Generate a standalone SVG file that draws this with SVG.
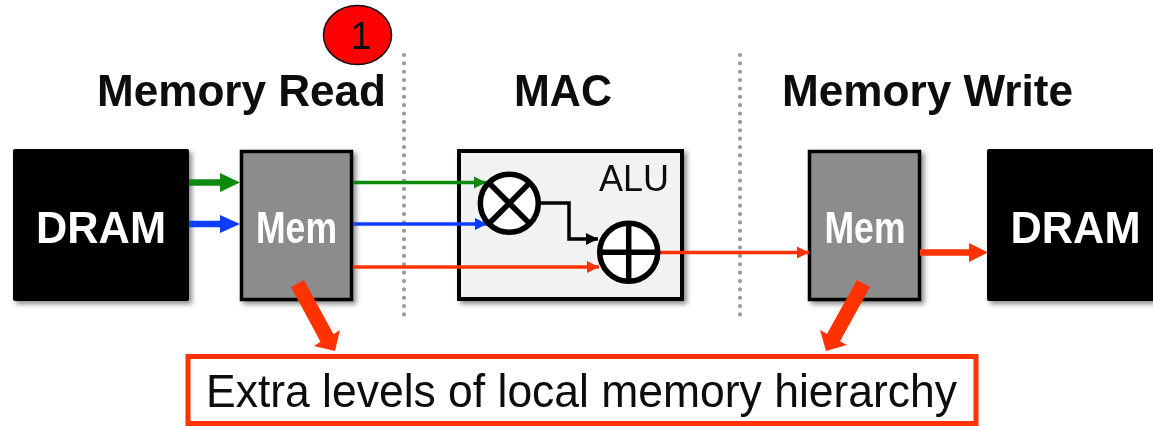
<svg xmlns="http://www.w3.org/2000/svg" width="1153" height="426" viewBox="0 0 1153 426">
<style>
text{font-family:"Liberation Sans",Arial,sans-serif}
.h{font-size:44px;font-weight:700;fill:#0a0a0a}
.w{font-size:44px;font-weight:700;fill:#fff;text-anchor:middle}
.mem{fill:#8c8c8c;stroke:#000;stroke-width:3.5}
.dram{fill:#000}
.dot{fill:none;stroke:#999;stroke-width:4.2;stroke-linecap:round;stroke-dasharray:0 8.37}
.l{fill:none;stroke-width:3.5}
.op{fill:#fff;stroke:#000;stroke-width:5.5}
</style>
<defs>
<filter id="soft" x="0" y="0" width="1153" height="426" filterUnits="userSpaceOnUse"><feGaussianBlur stdDeviation="0.55"/></filter>
<filter id="sh" x="-10%" y="-10%" width="125%" height="125%"><feDropShadow dx="3" dy="3" stdDeviation="2.5" flood-color="#000" flood-opacity=".45"/></filter>
<marker id="ag" markerUnits="userSpaceOnUse" markerWidth="14" markerHeight="14" refX="13" refY="7" orient="auto"><path d="M1 1L13 7L1 13Z" fill="#0a8a0a"/></marker>
<marker id="ab" markerUnits="userSpaceOnUse" markerWidth="14" markerHeight="14" refX="13" refY="7" orient="auto"><path d="M1 1L13 7L1 13Z" fill="#0a3cff"/></marker>
<marker id="ar" markerUnits="userSpaceOnUse" markerWidth="14" markerHeight="14" refX="13" refY="7" orient="auto"><path d="M1 1L13 7L1 13Z" fill="#ff3300"/></marker>
<marker id="ak" markerUnits="userSpaceOnUse" markerWidth="14" markerHeight="14" refX="13" refY="7" orient="auto"><path d="M1 1L13 7L1 13Z" fill="#000"/></marker>
</defs>
<rect width="1153" height="426" fill="#fff"/>
<g filter="url(#soft)">
<g id="dividers">
<path class="dot" d="M404 55V316"/>
<path class="dot" d="M740 55V316"/>
</g>
<g id="heading-read"><text class="h" x="97" y="106" textLength="289" lengthAdjust="spacingAndGlyphs">Memory Read</text></g>
<g id="heading-mac"><text class="h" x="514" y="106" textLength="98" lengthAdjust="spacingAndGlyphs">MAC</text></g>
<g id="heading-write"><text class="h" x="782" y="106" textLength="291" lengthAdjust="spacingAndGlyphs">Memory Write</text></g>
<g id="badge">
<ellipse cx="357.500" cy="35" rx="34" ry="29.500" fill="#fe0000" stroke="#111" stroke-width="1.500"/>
<text x="361" y="49" font-size="38" text-anchor="middle" fill="#111">1</text>
</g>
<g id="dram-left"><rect class="dram" x="13" y="149" width="176" height="152" rx="2" filter="url(#sh)"/><text class="w" x="101" y="243" textLength="130" lengthAdjust="spacingAndGlyphs">DRAM</text></g>
<g id="mem-left"><rect class="mem" x="241.500" y="151.500" width="110" height="148" filter="url(#sh)"/><text class="w" x="296.500" y="243" textLength="81" lengthAdjust="spacingAndGlyphs">Mem</text></g>
<g id="alu"><rect x="459" y="151" width="223" height="148" fill="#f2f2f2" stroke="#000" stroke-width="4" filter="url(#sh)"/><text x="599" y="191" font-size="36" fill="#111">ALU</text></g>
<g id="mem-right"><rect class="mem" x="809.500" y="151.500" width="110" height="148" filter="url(#sh)"/><text class="w" x="865" y="243" textLength="81" lengthAdjust="spacingAndGlyphs">Mem</text></g>
<g id="dram-right"><rect class="dram" x="987" y="149" width="170" height="152" rx="2" filter="url(#sh)"/><text class="w" x="1075.500" y="243" textLength="130" lengthAdjust="spacingAndGlyphs">DRAM</text></g>
<g id="connectors">
<path d="M189 182.500H221" stroke="#0a8a0a" stroke-width="6.500"/><path d="M220 173L240 182.500L220 192Z" fill="#0a8a0a"/>
<path d="M189 224H221" stroke="#0a3cff" stroke-width="6.500"/><path d="M220 215L240 224L220 233Z" fill="#0a3cff"/>
<path class="l" d="M353 182.500H486" stroke="#0a8a0a" marker-end="url(#ag)"/>
<path class="l" d="M353 224H487" stroke="#0a3cff" marker-end="url(#ab)"/>
<path class="l" d="M353 267H599" stroke="#ff3300" marker-end="url(#ar)"/>
<path class="l" d="M539 203H569V239H598" stroke="#000" marker-end="url(#ak)"/>
<path class="l" d="M660 252.500H809" stroke="#ff3300" marker-end="url(#ar)"/>
<path d="M920 252.500H970" stroke="#ff3300" stroke-width="6.500"/><path d="M969 243L988 252.500L969 262Z" fill="#ff3300"/>
<path d="M291 287L304 280L333.500 334.300L340 330L335 351L314 346L320.500 341.700Z" fill="#ff3300"/>
<path d="M857 280L870 287L840 341.200L847 345L826 351L820 330L827 333.800Z" fill="#ff3300"/>
</g>
<g id="mul"><circle class="op" cx="509.300" cy="203.300" r="29"/><path d="M488.800 182.800L529.800 223.800M529.800 182.800L488.800 223.800" stroke="#000" stroke-width="5.500"/></g>
<g id="add"><circle class="op" cx="628.700" cy="252.300" r="29"/><path d="M599.700 252.300H657.700M628.700 223.300V281.300" stroke="#000" stroke-width="5.500"/></g>
<g id="note"><rect x="188" y="356.500" width="788" height="67" fill="#fff" stroke="#ff3300" stroke-width="5"/><text x="206" y="407" font-size="45.800" fill="#0a0a0a" textLength="751" lengthAdjust="spacingAndGlyphs">Extra levels of local memory hierarchy</text></g>
</g>
</svg>
